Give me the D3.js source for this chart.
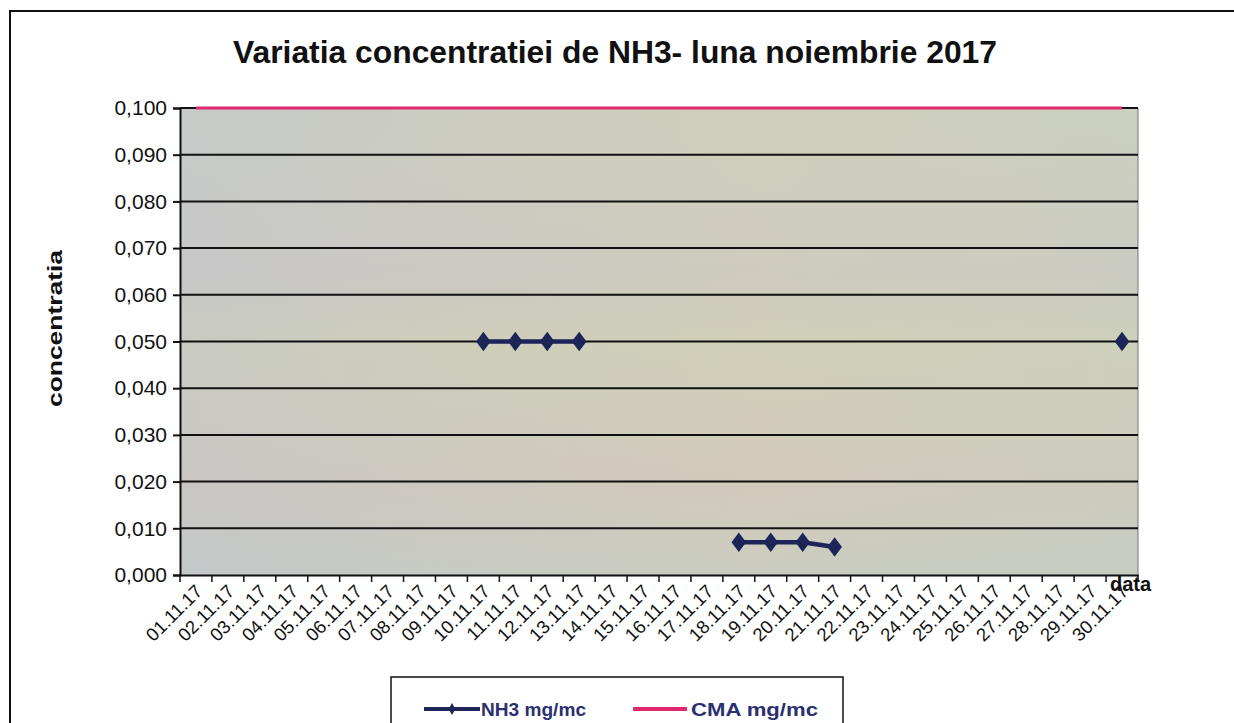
<!DOCTYPE html>
<html>
<head>
<meta charset="utf-8">
<script src="https://cdn.jsdelivr.net/npm/d3@7"></script>
<style>
  body { margin: 0; background: #fff; overflow: hidden; }
  svg { display: block; font-family: "Liberation Sans", Arial, sans-serif; }
</style>
</head>
<body>
<svg></svg>
<script>
const dates = ["01.11.17","02.11.17","03.11.17","04.11.17","05.11.17","06.11.17","07.11.17","08.11.17","09.11.17","10.11.17",
  "11.11.17","12.11.17","13.11.17","14.11.17","15.11.17","16.11.17","17.11.17","18.11.17","19.11.17","20.11.17",
  "21.11.17","22.11.17","23.11.17","24.11.17","25.11.17","26.11.17","27.11.17","28.11.17","29.11.17","30.11.17"]
const nh3 = [null,null,null,null,null,null,null,null,null,0.050,
  0.050,0.050,0.050,null,null,null,null,0.007,0.007,0.007,
  0.006,null,null,null,null,null,null,null,null,0.050]
const cma = dates.map(() => 0.100)
const yTicks = [0,0.01,0.02,0.03,0.04,0.05,0.06,0.07,0.08,0.09,0.1]

const W = 1234, H = 723,
  margin = {top: 108, right: 96, bottom: 148, left: 180},
  width = W - margin.left - margin.right,
  height = H - margin.top - margin.bottom

const svg = d3.select("svg").attr("width", W).attr("height", H)

const defs = svg.append("defs")
const grad = defs.append("linearGradient").attr("id", "bg").attr("x1", 0).attr("x2", 1).attr("y1", 0).attr("y2", 0)
grad.append("stop").attr("offset", 0).attr("stop-color", "#c6cac8")
grad.append("stop").attr("offset", 0.3).attr("stop-color", "#cccdc0")
grad.append("stop").attr("offset", 0.6).attr("stop-color", "#d0cfbc")
grad.append("stop").attr("offset", 1).attr("stop-color", "#cbd0c0")
const grad2 = defs.append("linearGradient").attr("id", "bg2").attr("x1", 0).attr("x2", 0).attr("y1", 0).attr("y2", 1)
grad2.append("stop").attr("offset", 0).attr("stop-color", "#d8c8cc").attr("stop-opacity", 0)
grad2.append("stop").attr("offset", 0.35).attr("stop-color", "#c8b8c8").attr("stop-opacity", 0.2)
grad2.append("stop").attr("offset", 0.5).attr("stop-color", "#d6d2a8").attr("stop-opacity", 0.2)
grad2.append("stop").attr("offset", 0.8).attr("stop-color", "#d6b8b8").attr("stop-opacity", 0.2)
grad2.append("stop").attr("offset", 1).attr("stop-color", "#b8c4cc").attr("stop-opacity", 0.25)

// outer frame (right and bottom sides fall outside the page)
svg.append("path").attr("d", "M10,760 V11 H1260")
  .style("fill", "none").style("stroke", "#111").style("stroke-width", 2)

svg.append("text").text("Variatia concentratiei de NH3- luna noiembrie 2017")
  .attr("x", 233).attr("y", 63).attr("textLength", 764).attr("lengthAdjust", "spacingAndGlyphs")
  .style("font-size", "32px").style("font-weight", 700).style("fill", "#111")

const chart = svg.append("g").attr("transform", `translate(${margin.left},${margin.top})`)

const x = d3.scaleBand().domain(dates).range([0, width]),
      y = d3.scaleLinear().domain([0, 0.1]).range([height, 0])

chart.append("rect").attr("width", width).attr("height", height).style("fill", "url(#bg)")
chart.append("rect").attr("width", width).attr("height", height).style("fill", "url(#bg2)")
chart.append("line").attr("x1", width).attr("x2", width).attr("y1", 0).attr("y2", height)
  .style("stroke", "#777").style("stroke-width", 1)

// grid
chart.append("g").selectAll("line").data(yTicks.slice(1)).join("line")
  .attr("x1", 0).attr("x2", width).attr("y1", d => y(d)).attr("y2", d => y(d))
  .style("stroke", "#111").style("stroke-width", 2)

const fmt = d => d3.format(".3f")(d).replace(".", ",")
const yAxis = chart.append("g").call(d3.axisLeft(y).tickValues(yTicks).tickFormat(fmt).tickSize(7).tickPadding(6))
yAxis.select(".domain").style("stroke", "#111").style("stroke-width", 2)
yAxis.selectAll(".tick line").style("stroke", "#111").style("stroke-width", 2)
yAxis.selectAll("text").style("font-size", "21px").style("fill", "#111")

const xAxis = chart.append("g").attr("transform", `translate(0,${height})`)
  .call(d3.axisBottom(x).tickSize(0).tickPadding(0))
xAxis.select(".domain").style("stroke", "#111").style("stroke-width", 2)
xAxis.selectAll(".tick text")
  .attr("transform", "translate(3,13) rotate(-45)")
  .attr("dy", "0.35em")
  .style("text-anchor", "end").style("font-size", "18.5px").style("fill", "#111")
chart.append("g").selectAll("line").data(d3.range(dates.length + 1)).join("line")
  .attr("x1", i => i * x.step()).attr("x2", i => i * x.step())
  .attr("y1", height).attr("y2", height + 7)
  .style("stroke", "#111").style("stroke-width", 1.5)

chart.append("text").text("concentratia")
  .attr("transform", `translate(${62 - margin.left},${407 - margin.top}) rotate(-90)`)
  .attr("textLength", 157).attr("lengthAdjust", "spacingAndGlyphs")
  .style("font-size", "21px").style("font-weight", 700).style("fill", "#111")
chart.append("text").text("data").attr("x", width - 28).attr("y", height + 16)
  .style("font-size", "20px").style("font-weight", 700).style("fill", "#111")

const cx = (d, i) => x(dates[i]) + x.bandwidth() / 2

chart.append("path").datum(cma)
  .attr("d", d3.line().x(cx).y(d => y(d)))
  .style("fill", "none").style("stroke", "#e0286e").style("stroke-width", 3)

chart.append("path").datum(nh3)
  .attr("d", d3.line().defined(d => d !== null).x(cx).y(d => y(d)))
  .style("fill", "none").style("stroke", "#1c2458").style("stroke-width", 4.5)

const diamond = d3.symbol().type(d3.symbolDiamond).size(110)
chart.append("g").selectAll("path").data(nh3.map((d, i) => ({d, i})).filter(p => p.d !== null)).join("path")
  .attr("d", diamond)
  .attr("transform", p => `translate(${cx(p.d, p.i)},${y(p.d)}) scale(1.3,1)`)
  .style("fill", "#1c2458")

// legend
const legend = svg.append("g").attr("transform", "translate(391,677)")
legend.append("rect").attr("width", 452).attr("height", 60).style("fill", "#fff").style("stroke", "#111").style("stroke-width", 1.5)
legend.append("line").attr("x1", 33).attr("x2", 89).attr("y1", 32).attr("y2", 32).style("stroke", "#1c2458").style("stroke-width", 4)
legend.append("path").attr("d", d3.symbol().type(d3.symbolDiamond).size(40)).attr("transform", "translate(61,32)").style("fill", "#1c2458")
legend.append("text").text("NH3 mg/mc").attr("x", 90).attr("y", 39).attr("textLength", 105).attr("lengthAdjust", "spacingAndGlyphs")
  .style("font-size", "19px").style("font-weight", 700).style("fill", "#2a3070")
legend.append("line").attr("x1", 242).attr("x2", 296).attr("y1", 32).attr("y2", 32).style("stroke", "#e0286e").style("stroke-width", 4)
legend.append("text").text("CMA mg/mc").attr("x", 300).attr("y", 39).attr("textLength", 127).attr("lengthAdjust", "spacingAndGlyphs")
  .style("font-size", "19px").style("font-weight", 700).style("fill", "#2a3070")
</script>
</body>
</html>
